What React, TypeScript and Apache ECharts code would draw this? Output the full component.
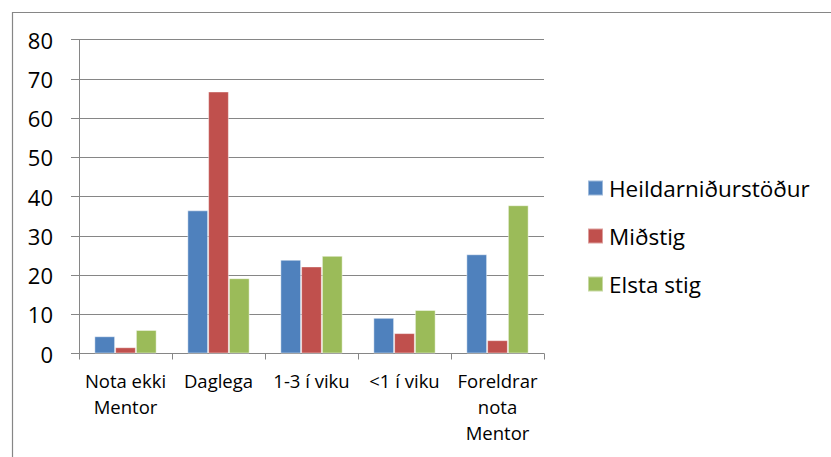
import React, { useEffect, useRef } from "react";
import * as echarts from "echarts";

const categories = ["Nota ekki\nMentor", "Daglega", "1-3 í viku", "<1 í viku", "Foreldrar\nnota\nMentor"];
const seriesNames = ["Heildarniðurstöður", "Miðstig", "Elsta stig"];
const heildar = [4.4, 36.5, 23.9, 9.1, 25.3];
const midstig = [1.6, 66.8, 22.2, 5.2, 3.4];
const elsta = [6.0, 19.2, 24.9, 11.1, 37.8];
const colors = ["#4F81BD", "#C0504D", "#9BBB59"];
const yTicks = { min: 0, max: 80, interval: 10 };

const FONT = "'Open Sans', Lato, sans-serif";

export default function App() {
  const ref = useRef<HTMLDivElement>(null);
  useEffect(() => {
    if (!ref.current) return;
    const chart = echarts.init(ref.current, undefined, { renderer: "svg" });
    const values = [heildar, midstig, elsta];
    chart.setOption({
      animation: false,
      backgroundColor: "#ffffff",
      textStyle: { fontFamily: FONT },
      grid: { left: 79, right: 287, top: 39.7, bottom: 103.5, containLabel: false },
      legend: {
        orient: "vertical",
        left: 587,
        top: 176,
        padding: 0,
        itemWidth: 15,
        itemHeight: 15,
        itemGap: 24,
        icon: "rect",
        textStyle: { fontFamily: FONT, fontSize: 22.5, color: "#000", lineHeight: 24, padding: [0, 0, 0, 1] },
        data: seriesNames,
      },
      xAxis: {
        type: "category",
        data: categories,
        axisLine: { lineStyle: { color: "#868686", width: 1 } },
        axisTick: { show: true, length: 6, lineStyle: { color: "#868686" } },
        axisLabel: { color: "#000", fontSize: 18.5, lineHeight: 26, margin: 14, fontFamily: FONT, interval: 0 },
      },
      yAxis: {
        type: "value",
        min: yTicks.min,
        max: yTicks.max,
        interval: yTicks.interval,
        axisLine: { show: true, lineStyle: { color: "#868686", width: 1 } },
        axisTick: { show: true, length: 8, lineStyle: { color: "#868686" } },
        splitLine: { lineStyle: { color: "#868686", width: 1 } },
        axisLabel: { color: "#000", fontSize: 22, margin: 26, fontFamily: FONT },
      },
      series: seriesNames.map((name, i) => ({
        name,
        type: "bar",
        data: values[i],
        barGap: "0%",
        barCategoryGap: "33%",
        itemStyle: { color: colors[i], borderColor: "rgba(255,255,255,0.45)", borderWidth: 1 },
      })),
      graphic: [
        {
          type: "rect",
          left: 10,
          top: 10,
          shape: { x: 0, y: 0, width: 900, height: 600 },
          style: { fill: "none", stroke: "#868686", lineWidth: 1.2 },
          silent: true,
          z: -1,
        },
      ],
    });
    return () => chart.dispose();
  }, []);
  return <div ref={ref} style={{ position: "absolute", left: 0, top: 0, width: 831, height: 457 }} />;
}
